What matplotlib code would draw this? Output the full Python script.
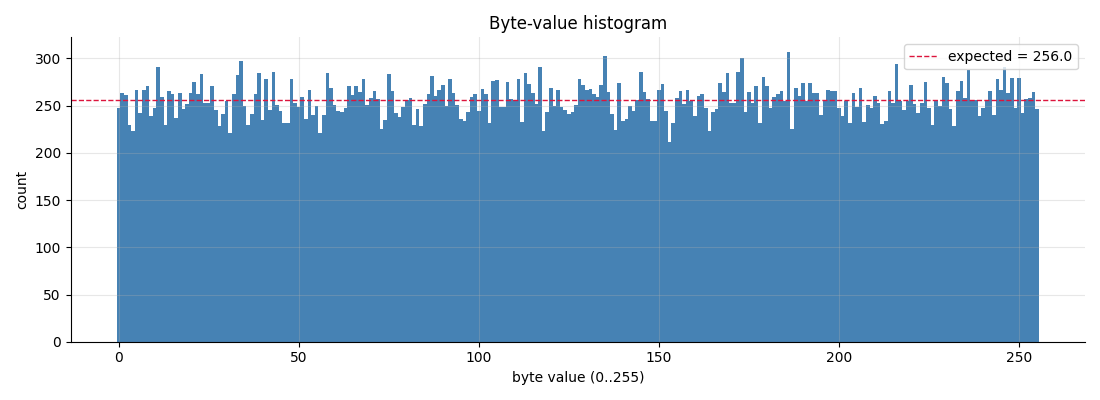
import numpy as np
import matplotlib
matplotlib.use("Agg")
import matplotlib.pyplot as plt

# counts per byte value
byte_values = np.arange(256)
counts = [
    247, 263, 261, 230, 223, 267, 242, 267, 271, 239, 247, 291, 259, 229, 266, 262,
    237, 263, 246, 252, 263, 275, 262, 283, 253, 253, 271, 245, 228, 241, 255, 221,
    262, 282, 297, 250, 230, 241, 262, 285, 235, 278, 245, 286, 251, 244, 232, 232,
    278, 253, 249, 259, 236, 267, 240, 250, 221, 240, 285, 269, 251, 244, 243, 247,
    271, 261, 271, 264, 278, 251, 258, 266, 257, 225, 235, 284, 266, 242, 238, 249,
    256, 258, 229, 246, 228, 252, 262, 281, 260, 267, 272, 250, 278, 263, 251, 236,
    234, 243, 259, 262, 244, 268, 262, 232, 276, 277, 249, 249, 275, 257, 256, 278,
    233, 285, 273, 263, 252, 291, 223, 243, 269, 250, 267, 249, 245, 241, 243, 251,
    278, 272, 267, 268, 262, 259, 272, 303, 264, 241, 224, 274, 234, 236, 250, 244,
    256, 286, 264, 257, 234, 234, 267, 273, 244, 212, 232, 258, 266, 252, 267, 255,
    239, 260, 262, 247, 223, 243, 246, 274, 264, 285, 253, 253, 286, 300, 243, 264,
    253, 271, 232, 280, 271, 248, 259, 262, 266, 255, 307, 225, 269, 260, 274, 255,
    274, 263, 263, 240, 255, 267, 265, 265, 248, 239, 255, 232, 263, 249, 269, 233,
    251, 248, 260, 253, 231, 234, 265, 253, 294, 255, 245, 255, 272, 252, 242, 253,
    275, 247, 230, 256, 250, 280, 274, 246, 228, 266, 276, 258, 288, 256, 256, 239,
    247, 256, 266, 240, 278, 267, 291, 263, 279, 248, 279, 242, 257, 258, 264, 246,
]
expected = 256.0

fig, ax = plt.subplots(figsize=(11, 4), dpi=100)
ax.bar(byte_values, counts, width=1.0, color="steelblue", linewidth=0)
ax.axhline(expected, color="crimson", linestyle="--", linewidth=1,
           label=f"expected = {expected:.1f}")
ax.set_title("Byte-value histogram")
ax.set_xlabel("byte value (0..255)")
ax.set_ylabel("count")
ax.grid(True, alpha=0.3)
ax.spines["top"].set_visible(False)
ax.spines["right"].set_visible(False)
ax.legend(loc="upper right")
fig.tight_layout()
fig.savefig("out.png")
